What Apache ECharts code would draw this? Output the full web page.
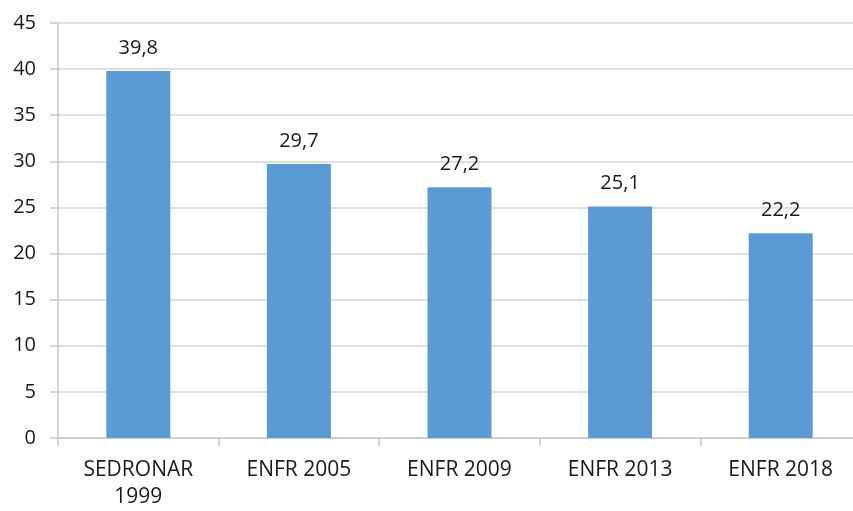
<!DOCTYPE html>
<html>
<head>
<meta charset="utf-8">
<script src="https://cdn.jsdelivr.net/npm/echarts@6/dist/echarts.min.js"></script>
<style>
  html, body { margin: 0; padding: 0; background: #fff; overflow: hidden; width: 853px; height: 511px; }
  /* the plot runs a few pixels past the right edge of the page */
  #chart { width: 861px; height: 511px; }
</style>
</head>
<body>
<div id="chart"></div>
<script>
// Survey categories and values
const categories = ['SEDRONAR\n1999', 'ENFR 2005', 'ENFR 2009', 'ENFR 2013', 'ENFR 2018'];
const values = [39.8, 29.7, 27.2, 25.1, 22.2];
const yTicks = { min: 0, max: 45, interval: 5 };

const FONT = 'Open Sans';
const chart = echarts.init(document.getElementById('chart'), null, { renderer: 'canvas' });

chart.setOption({
  animation: false,
  backgroundColor: '#ffffff',
  grid: { left: 58, right: 0, top: 23, bottom: 72, containLabel: false },
  xAxis: {
    type: 'category',
    data: categories,
    axisLine: { show: true, lineStyle: { color: '#c8c8c8', width: 1.5 } },
    axisTick: { show: true, length: 8, alignWithLabel: false, lineStyle: { color: '#c8c8c8', width: 1.5 } },
    axisLabel: {
      color: '#1a1a1a', fontFamily: FONT, fontSize: 21, margin: 19,
      lineHeight: 27, interval: 0
    },
    splitLine: { show: false }
  },
  yAxis: {
    type: 'value',
    min: yTicks.min, max: yTicks.max, interval: yTicks.interval,
    axisLine: { show: true, lineStyle: { color: '#c8c8c8', width: 1.5 } },
    axisTick: { show: true, length: 8, inside: false, lineStyle: { color: '#c8c8c8', width: 1.5 } },
    axisLabel: { color: '#1a1a1a', fontFamily: FONT, fontSize: 20, margin: 22 },
    splitLine: { show: true, lineStyle: { color: '#d4d4d4', width: 1.5 } }
  },
  series: [{
    type: 'bar',
    data: values,
    barWidth: 64,
    itemStyle: { color: '#5b9bd5' },
    label: {
      show: true,
      position: 'top',
      distance: 13,
      color: '#1a1a1a',
      fontFamily: FONT,
      fontSize: 20,
      formatter: p => String(p.value).replace('.', ',')
    }
  }]
});
</script>
</body>
</html>
